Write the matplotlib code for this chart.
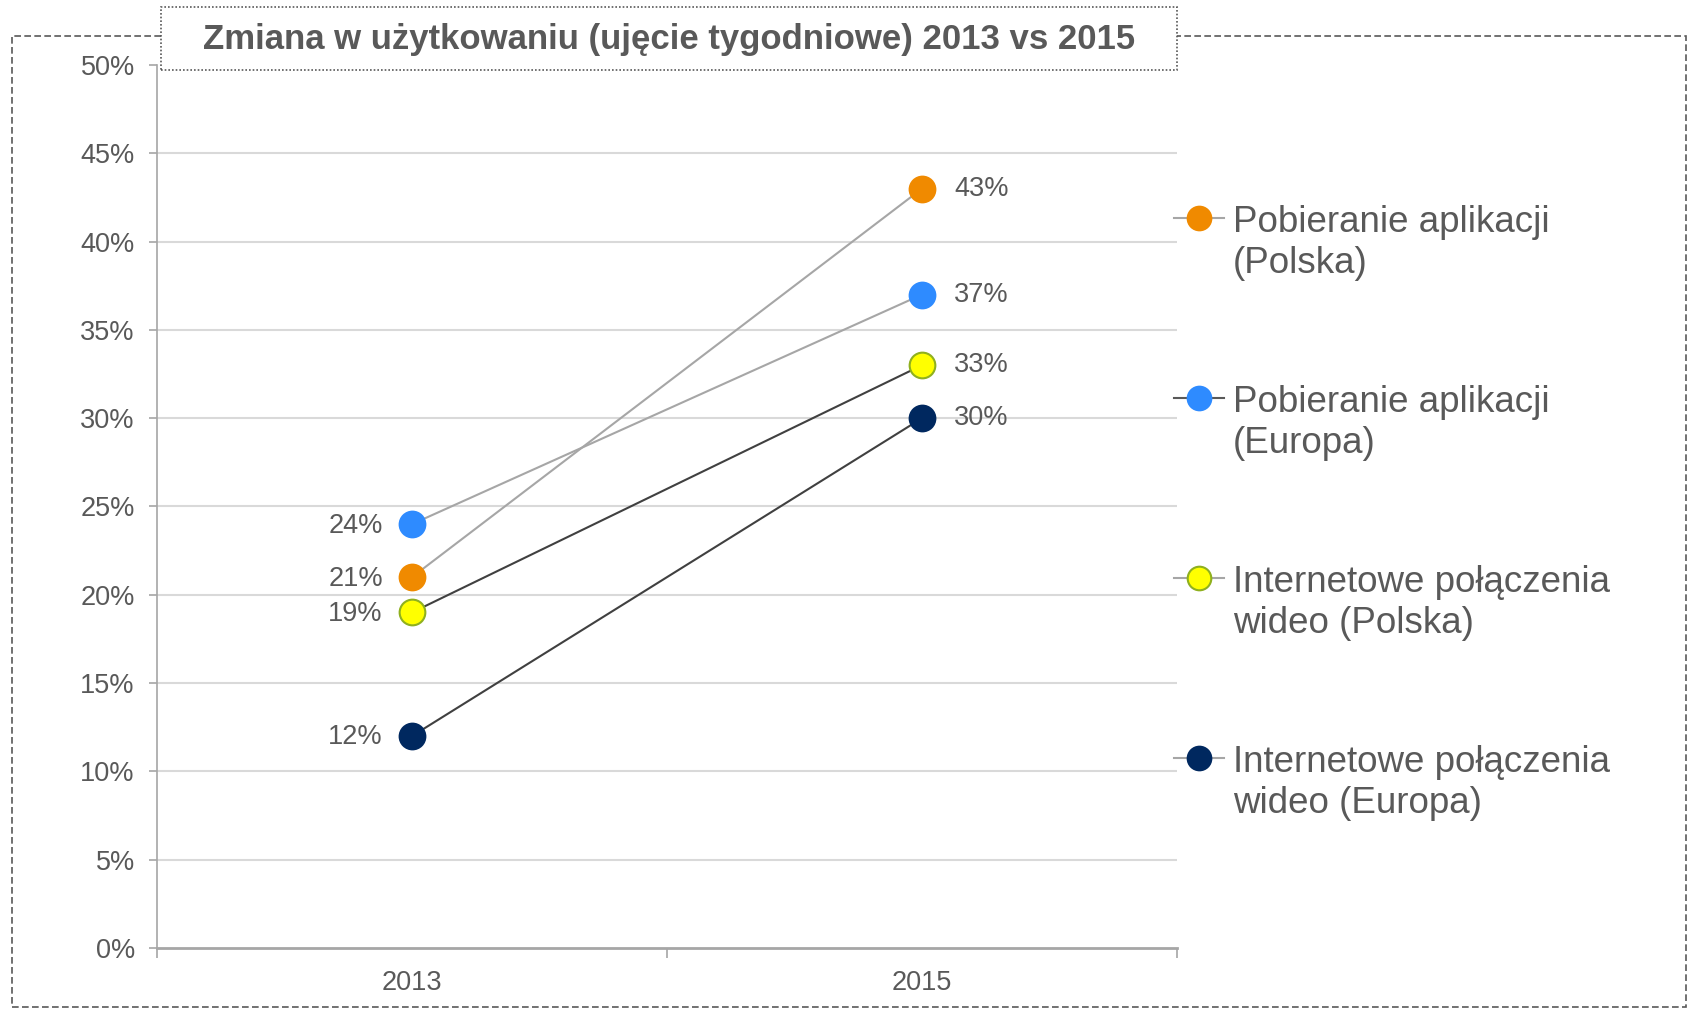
import matplotlib as mpl
import matplotlib.pyplot as plt
from matplotlib.lines import Line2D
from matplotlib.patches import Rectangle
from matplotlib.ticker import PercentFormatter

years = ["2013", "2015"]
series_names = ["Pobieranie aplikacji\n(Polska)", "Pobieranie aplikacji\n(Europa)",
                "Internetowe połączenia\nwideo (Polska)", "Internetowe połączenia\nwideo (Europa)"]
apps_pl = [0.21, 0.43]
apps_eu = [0.24, 0.37]
video_pl = [0.19, 0.33]
video_eu = [0.12, 0.30]
title = "Zmiana w użytkowaniu (ujęcie tygodniowe) 2013 vs 2015"

face_colors = ["#F08A00", "#2E8BFF", "#FFFF00", "#00285F"]
edge_colors = ["#F08A00", "#2E8BFF", "#8FB01E", "#00285F"]
line_colors = ["#A6A6A6", "#A6A6A6", "#404040", "#404040"]
legend_line_colors = ["#A6A6A6", "#595959", "#A6A6A6", "#A6A6A6"]
text_color = "#595959"

mpl.rcParams['font.family'] = ["Liberation Sans", "DejaVu Sans"]

W, H = 1688, 1009
fig = plt.figure(figsize=(W / 100, H / 100), dpi=100)


def fx(px):
    return px / W


def fy(py):
    return 1 - py / H


ax = fig.add_axes([fx(157), fy(948), fx(1177 - 157), (948 - 65) / H])

xpos = [0.5, 1.5]
all_series = [apps_pl, apps_eu, video_pl, video_eu]
for i, vals in enumerate(all_series):
    ax.plot(xpos, vals, color=line_colors[i], lw=1.5, zorder=3)
    ax.plot(xpos, vals, ls="none", marker="o", markersize=18.5,
            markerfacecolor=face_colors[i], markeredgecolor=edge_colors[i],
            markeredgewidth=1.5, zorder=4)
    ax.annotate(f"{round(vals[0] * 100)}%", (xpos[0], vals[0]), xytext=(-21, -1),
                textcoords="offset points", ha="right", va="center",
                fontsize=19.5, color=text_color)
    ax.annotate(f"{round(vals[1] * 100)}%", (xpos[1], vals[1]), xytext=(23, 0),
                textcoords="offset points", ha="left", va="center",
                fontsize=19.5, color=text_color)

ax.set_xlim(0, 2)
ax.set_ylim(0, 0.5)
yticks = [i * 0.05 for i in range(11)]
ax.set_yticks(yticks)
ax.yaxis.set_major_formatter(PercentFormatter(1.0, decimals=0))
for y in yticks[1:-1]:
    ax.axhline(y, color="#D9D9D9", lw=1.5, zorder=1)

ax.set_xticks([0, 1, 2])
ax.set_xticklabels([])
ax.set_xticks(xpos, minor=True)
ax.set_xticklabels(years, minor=True)
ax.tick_params(axis="x", which="major", length=7, width=1.2, color="#A6A6A6", direction="out")
ax.tick_params(axis="x", which="minor", length=0, pad=16, labelsize=19.5, labelcolor=text_color)
ax.tick_params(axis="y", length=6, width=1.2, color="#A6A6A6", pad=10,
               labelsize=19.5, labelcolor=text_color)

for s in ["top", "right"]:
    ax.spines[s].set_visible(False)
ax.spines["left"].set_color("#A6A6A6")
ax.spines["left"].set_linewidth(1.2)
ax.spines["bottom"].set_color("#A6A6A6")
ax.spines["bottom"].set_linewidth(2)

# legend drawn by hand to the right of the plot
legend_y = [218, 398, 578, 758]
for i, name in enumerate(series_names):
    y = fy(legend_y[i])
    fig.add_artist(Line2D([fx(1174), fx(1224)], [y, y], color=legend_line_colors[i], lw=1.5,
                          transform=fig.transFigure))
    fig.add_artist(Line2D([fx(1199)], [y], ls="none", marker="o", markersize=17,
                          markerfacecolor=face_colors[i], markeredgecolor=edge_colors[i],
                          markeredgewidth=1.5, transform=fig.transFigure))
    fig.text(fx(1233), fy(legend_y[i] + 25), name, ha="left", va="center",
             fontsize=26.5, color=text_color, linespacing=1.2)

# outer dashed frame and dotted title box
fig.add_artist(Rectangle((fx(12), fy(1007)), fx(1686 - 12), (1007 - 36) / H, fill=False,
                         edgecolor="#595959", lw=1.2, ls=(0, (4, 2)),
                         transform=fig.transFigure, zorder=0))
fig.add_artist(Rectangle((fx(161), fy(70)), fx(1177 - 161), (70 - 7) / H, facecolor="white",
                         edgecolor="#595959", lw=1.2, ls=(0, (1, 1.2)),
                         transform=fig.transFigure, zorder=5))
fig.text(fx(669), fy(40), title, ha="center", va="center", fontsize=25,
         fontweight="bold", color=text_color, zorder=6)

fig.savefig("out.png", dpi=100)
